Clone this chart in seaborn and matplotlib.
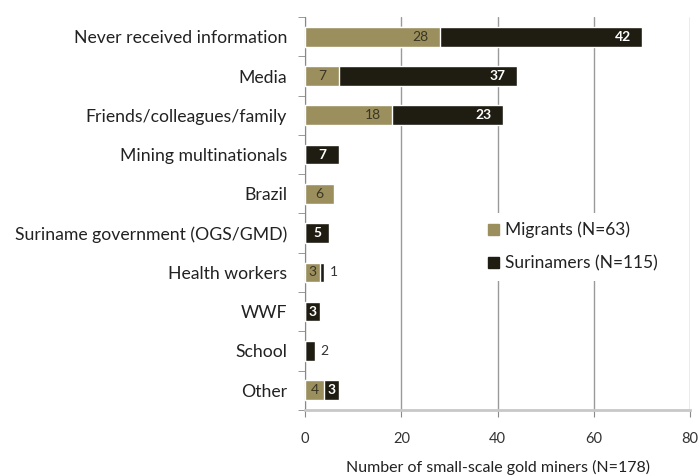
import pandas as pd
import seaborn as sns
import matplotlib.pyplot as plt
from matplotlib.patches import Patch

# categories and counts
sources = ['Never received information', 'Media', 'Friends/colleagues/family',
           'Mining multinationals', 'Brazil', 'Suriname government (OGS/GMD)',
           'Health workers', 'WWF', 'School', 'Other']
migrants = [28, 7, 18, 0, 6, 0, 3, 0, 0, 4]
surinamers = [42, 37, 23, 7, 0, 5, 1, 3, 2, 3]
xticks = [0, 20, 40, 60, 80]

mig_col = '#9b8f5e'
sur_col = '#1f1c12'

df = pd.DataFrame({'source': sources, 'migrants': migrants, 'surinamers': surinamers})
df['total'] = df['migrants'] + df['surinamers']

sns.set_style('white')
plt.rcParams['font.family'] = ['Lato', 'DejaVu Sans']

fig = plt.figure(figsize=(7, 4.76), dpi=100)
ax = fig.add_axes([0.436, 0.139, 0.55, 0.825])

# stacked: total drawn first in black, migrants over it
sns.barplot(data=df, y='source', x='total', color=sur_col, width=0.5,
            saturation=1, ax=ax, zorder=3)
sns.barplot(data=df, y='source', x='migrants', color=mig_col, width=0.5,
            saturation=1, ax=ax, zorder=4)

# value labels
fs = 10
for i, row in df.iterrows():
    m, s = row['migrants'], row['surinamers']
    if m > 0:
        if m >= 10:
            ax.annotate(str(m), (m, i), xytext=(-8, 0), textcoords='offset points',
                        ha='right', va='center', fontsize=fs, color='#3a3624', zorder=5)
        else:
            ax.text(m / 2, i, str(m), ha='center', va='center', fontsize=fs,
                    color='#3a3624', zorder=5)
    if s > 0:
        if s >= 10:
            ax.annotate(str(s), (m + s, i), xytext=(-8, 0), textcoords='offset points',
                        ha='right', va='center', fontsize=fs, color='white',
                        fontweight='bold', zorder=5)
        elif s >= 3:
            ax.text(m + s / 2, i, str(s), ha='center', va='center', fontsize=fs,
                    color='white', fontweight='bold', zorder=5)
        else:
            ax.annotate(str(s), (m + s, i), xytext=(4, 0), textcoords='offset points',
                        ha='left', va='center', fontsize=fs, color='#333333', zorder=5)

ax.set_xlim(0, 80)
ax.set_ylim(9.5, -0.5)
ax.set_xticks(xticks)
ax.set_xticklabels([str(t) for t in xticks])
ax.grid(axis='x', color='#9a9a9a', linewidth=1, zorder=0)
ax.set_axisbelow(True)

# category boundary ticks on the y axis
ax.set_yticks([i - 0.5 for i in range(len(sources) + 1)], minor=True)
ax.tick_params(axis='y', which='major', length=0, pad=13, labelsize=12.7, labelcolor='#222222')
ax.tick_params(axis='y', which='minor', length=5, color='#888888', direction='out', left=True)
ax.tick_params(axis='x', which='major', length=5, color='#888888', direction='out',
               bottom=True, labelsize=10.5, labelcolor='#333333', pad=11)

for side in ['top', 'right']:
    ax.spines[side].set_visible(False)
ax.spines['left'].set_color('#888888')
ax.spines['bottom'].set_color('#c8c8c8')
ax.spines['bottom'].set_linewidth(2)

ax.set_ylabel('')
ax.set_xlabel('Number of small-scale gold miners (N=178)', fontsize=11.5, color='#222222', labelpad=10)

handles = [Patch(color=mig_col, label='Migrants (N=63)'),
           Patch(color=sur_col, label='Surinamers (N=115)')]
leg = ax.legend(handles=handles, loc='center left', bbox_to_anchor=(0.43, 0.415),
                frameon=True, framealpha=1, edgecolor='none', facecolor='white',
                fontsize=12.5, handlelength=0.6, handleheight=0.6, handletextpad=0.4,
                labelspacing=1.0, borderpad=0.5)
for t in leg.get_texts():
    t.set_color('#222222')

fig.savefig('out.png', dpi=100)
